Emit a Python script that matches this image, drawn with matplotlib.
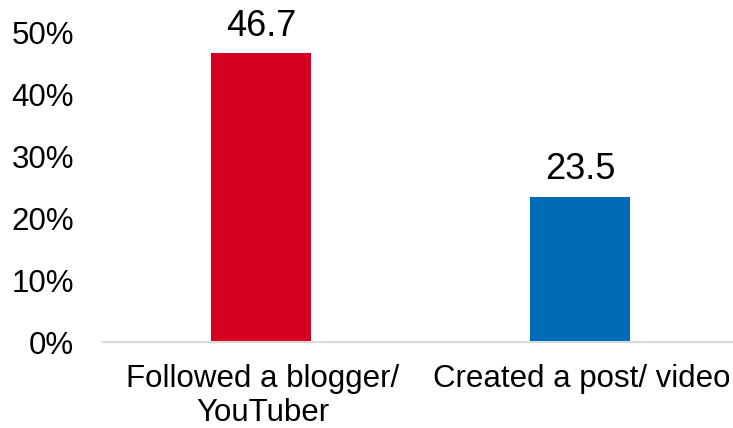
import numpy as np
import matplotlib.pyplot as plt
from matplotlib.ticker import PercentFormatter

categories = ['Followed a blogger/\nYouTuber', 'Created a post/ video']
values = [46.7, 23.5]
colors = ['#D50021', '#006BB6']
yticks = [0, 10, 20, 30, 40, 50]

plt.rc('font', family=['Liberation Sans', 'DejaVu Sans'])

fig = plt.figure(figsize=(7.33, 4.28), dpi=100)
ax = fig.add_axes([103/733, 86/428, 630/733, 340/428])

x = np.arange(len(categories))
bars = ax.bar(x - 0.005, values, width=0.313, color=colors)

for b, v in zip(bars, values):
    ax.annotate(f'{v:.1f}', (b.get_x() + b.get_width()/2, v), xytext=(0, 7),
                textcoords='offset points', ha='center', va='bottom', fontsize=26)

ax.set_xlim(-0.5, 1.5 - 8/319)
ax.set_ylim(0, 55)
ax.set_yticks(yticks)
ax.yaxis.set_major_formatter(PercentFormatter(decimals=0))
ax.set_xticks(x)
ax.set_xticklabels(categories, linespacing=1.17)
ax.tick_params(axis='y', length=0, pad=21, labelsize=22.5)
ax.tick_params(axis='x', length=0, pad=16, labelsize=22.5)

for s in ['top', 'right', 'left']:
    ax.spines[s].set_visible(False)
ax.spines['bottom'].set_color('#D9D9D9')
ax.spines['bottom'].set_linewidth(1.5)

fig.savefig('out.png', dpi=100)
